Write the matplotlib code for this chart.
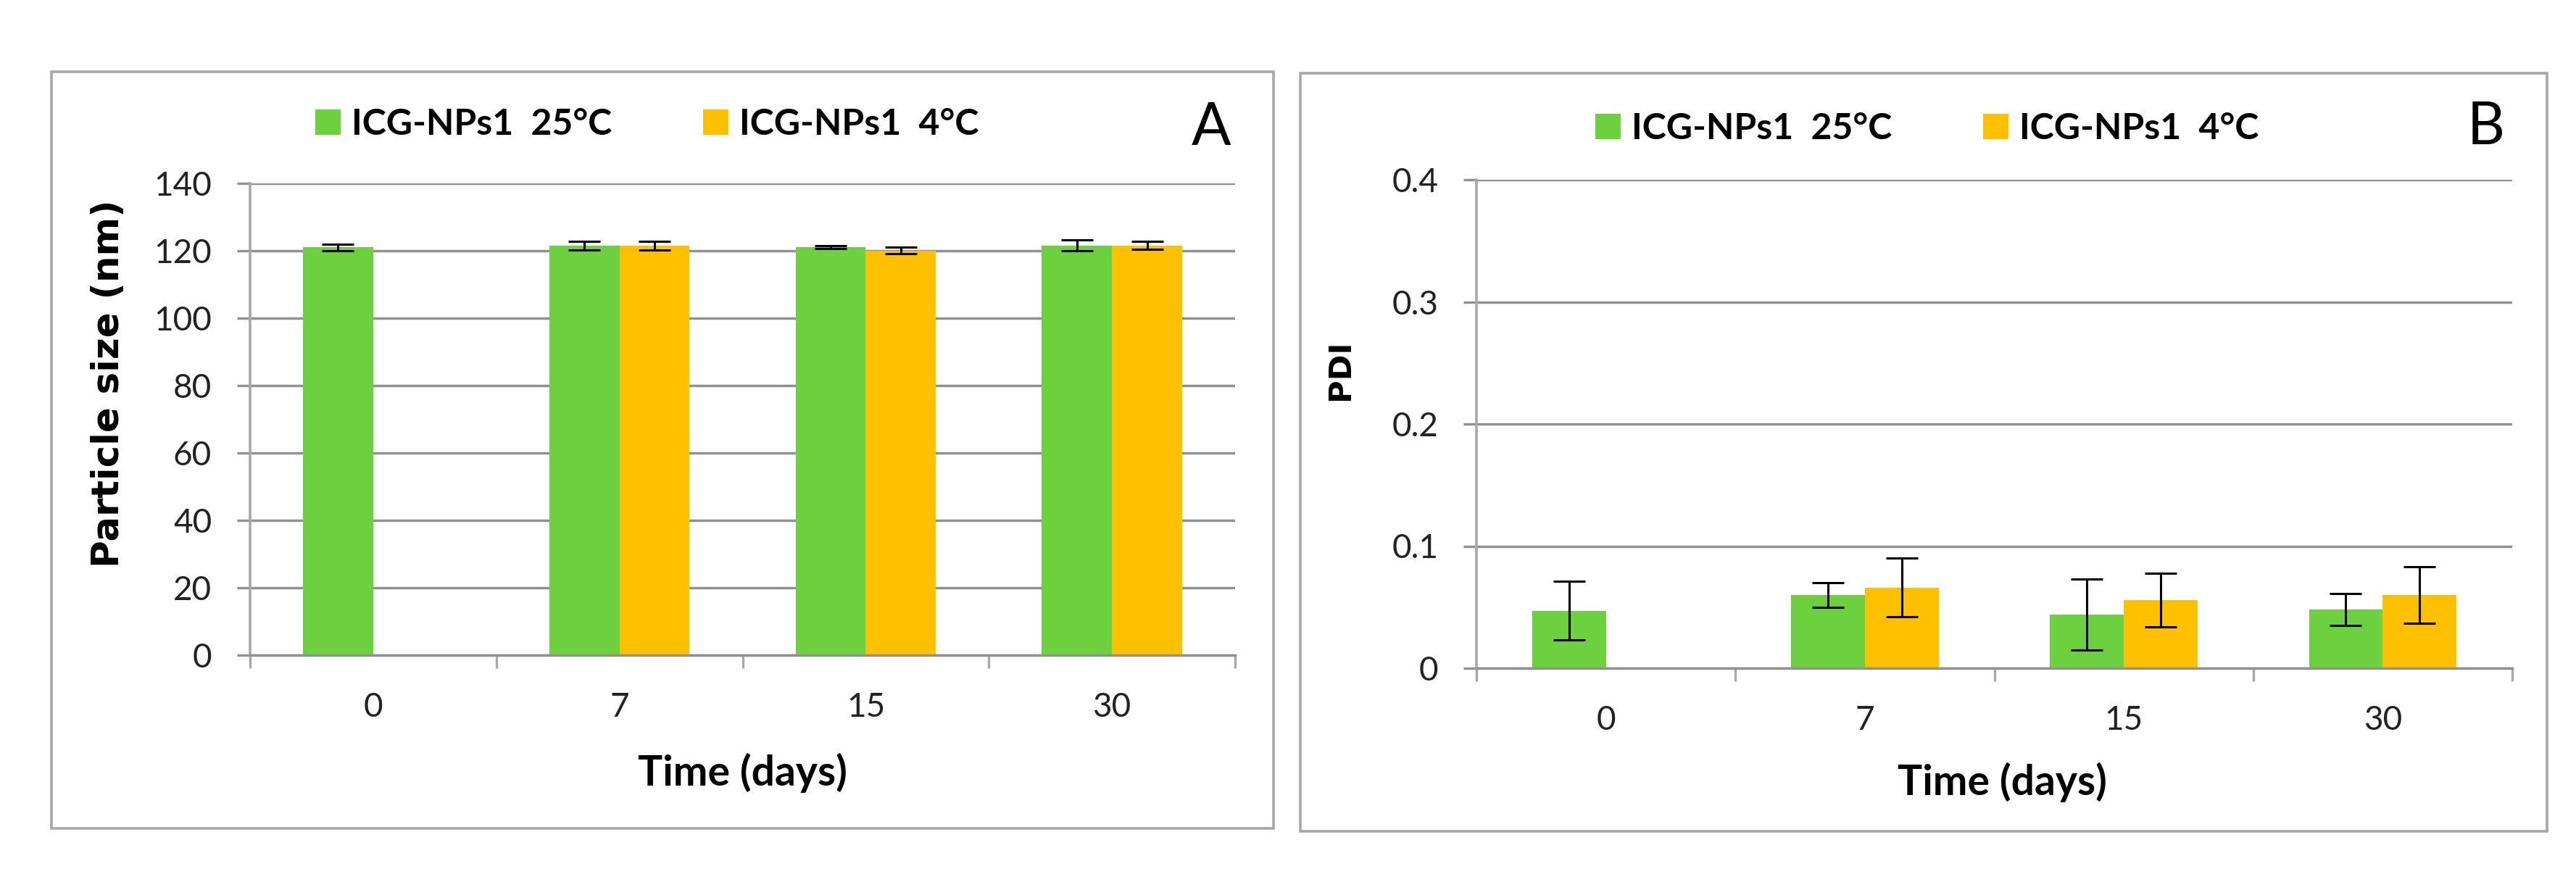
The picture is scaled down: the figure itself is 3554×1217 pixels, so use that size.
import numpy as np
import matplotlib.pyplot as plt
from matplotlib.patches import Rectangle
from matplotlib.ticker import FixedLocator

plt.rcParams['font.family'] = ['Lato', 'DejaVu Sans']

# Data
days = ['0', '7', '15', '30']
series = ['ICG-NPs1  25°C', 'ICG-NPs1  4°C']

size_25 = [121.0, 121.6, 121.1, 121.6]
size_25_err = [1.0, 1.3, 0.4, 1.6]
size_4 = [None, 121.6, 120.1, 121.6]
size_4_err = [None, 1.3, 1.0, 1.2]

pdi_25 = [0.047, 0.060, 0.044, 0.048]
pdi_25_err = [0.024, 0.010, 0.029, 0.013]
pdi_4 = [None, 0.066, 0.056, 0.060]
pdi_4_err = [None, 0.024, 0.022, 0.023]

green = '#6DD13F'
orange = '#FFC000'
grid_col = '#919191'
axis_col = '#a8a8a8'

W, H = 3554, 1217
fig = plt.figure(figsize=(W / 100, H / 100), dpi=100)


def px_axes(left, right, top, bottom):
    return fig.add_axes([left / W, 1 - bottom / H, (right - left) / W, (bottom - top) / H])


def frame(x0, x1, y0, y1):
    fig.patches.append(Rectangle((x0 / W, 1 - y1 / H), (x1 - x0) / W, (y1 - y0) / H,
                                 transform=fig.transFigure, fill=False,
                                 edgecolor=axis_col, lw=2.6))


def bar_panel(ax, v1, e1, v2, e2, ymax, yticks, ylabels):
    x = np.arange(len(days))
    w = 0.285
    ax.bar(x - w / 2, v1, w, color=green, label=series[0], zorder=2)
    ax.errorbar(x - w / 2, v1, yerr=e1, fmt='none', ecolor='black',
                elinewidth=2.2, capsize=16, capthick=2.2, zorder=3)
    idx = [i for i, v in enumerate(v2) if v is not None]
    v2s = [v2[i] for i in idx]
    e2s = [e2[i] for i in idx]
    ax.bar(x[idx] + w / 2, v2s, w, color=orange, label=series[1], zorder=2)
    ax.errorbar(x[idx] + w / 2, v2s, yerr=e2s, fmt='none', ecolor='black',
                elinewidth=2.2, capsize=16, capthick=2.2, zorder=3)

    ax.set_xlim(-0.5, len(days) - 0.5)
    ax.set_ylim(0, ymax)
    ax.set_yticks(yticks)
    ax.set_yticklabels(ylabels)
    ax.set_xticks(x)
    ax.set_xticklabels(days)
    ax.xaxis.set_minor_locator(FixedLocator(np.arange(-0.5, len(days), 1.0)))
    ax.tick_params(axis='x', which='major', length=0, pad=37, labelsize=33, colors='#222222')
    ax.tick_params(axis='x', which='minor', length=13, width=2.4, color=axis_col)
    ax.tick_params(axis='y', length=13, width=2.4, color=grid_col, pad=25,
                   labelsize=33, labelcolor='#222222')
    ax.grid(axis='y', color=grid_col, lw=2.5, zorder=0)
    ax.set_axisbelow(True)
    for s in ['top', 'right']:
        ax.spines[s].set_visible(False)
    ax.spines['left'].set_color(axis_col)
    ax.spines['left'].set_linewidth(2.6)
    ax.spines['bottom'].set_color(grid_col)
    ax.spines['bottom'].set_linewidth(2.5)
    ax.set_xlabel('Time (days)', fontsize=41, fontweight='bold', va='center')


# Panel A
frame(71, 1757, 99, 1143)
axA = px_axes(345, 1704, 253, 904)
bar_panel(axA, size_25, size_25_err, size_4, size_4_err, 140,
          np.arange(0, 141, 20), [str(v) for v in range(0, 141, 20)])
axA.set_ylabel('Particle size (nm)', fontsize=37, fontweight='bold',
               family='DejaVu Sans', va='center')
axA.yaxis.set_label_coords(-0.1435, 0.575)
axA.xaxis.set_label_coords(0.5, -0.25)
axA.legend(loc='center', bbox_to_anchor=(0.403, 1.125), ncol=2, frameon=False,
           prop={'weight': 'bold', 'size': 36}, handlelength=0.7,
           handleheight=0.7, handletextpad=0.3, columnspacing=2.5)
fig.text(1671 / W, 1 - 177 / H, 'A', fontsize=58, ha='center', va='center')

# Panel B
frame(1794, 3514, 101, 1147)
axB = px_axes(2037, 3466, 248, 922)
bar_panel(axB, pdi_25, pdi_25_err, pdi_4, pdi_4_err, 0.4,
          [0, 0.1, 0.2, 0.3, 0.4], ['0', '0.1', '0.2', '0.3', '0.4'])
axB.set_ylabel('PDI', fontsize=31, fontweight='bold', family='DejaVu Sans', va='center')
axB.yaxis.set_label_coords(-0.1316, 0.611)
axB.xaxis.set_label_coords(0.508, -0.233)
axB.legend(loc='center', bbox_to_anchor=(0.435, 1.105), ncol=2, frameon=False,
           prop={'weight': 'bold', 'size': 36}, handlelength=0.7,
           handleheight=0.7, handletextpad=0.3, columnspacing=2.5)
fig.text(3430 / W, 1 - 176 / H, 'B', fontsize=58, ha='center', va='center')

fig.savefig('out.png', dpi=100)
